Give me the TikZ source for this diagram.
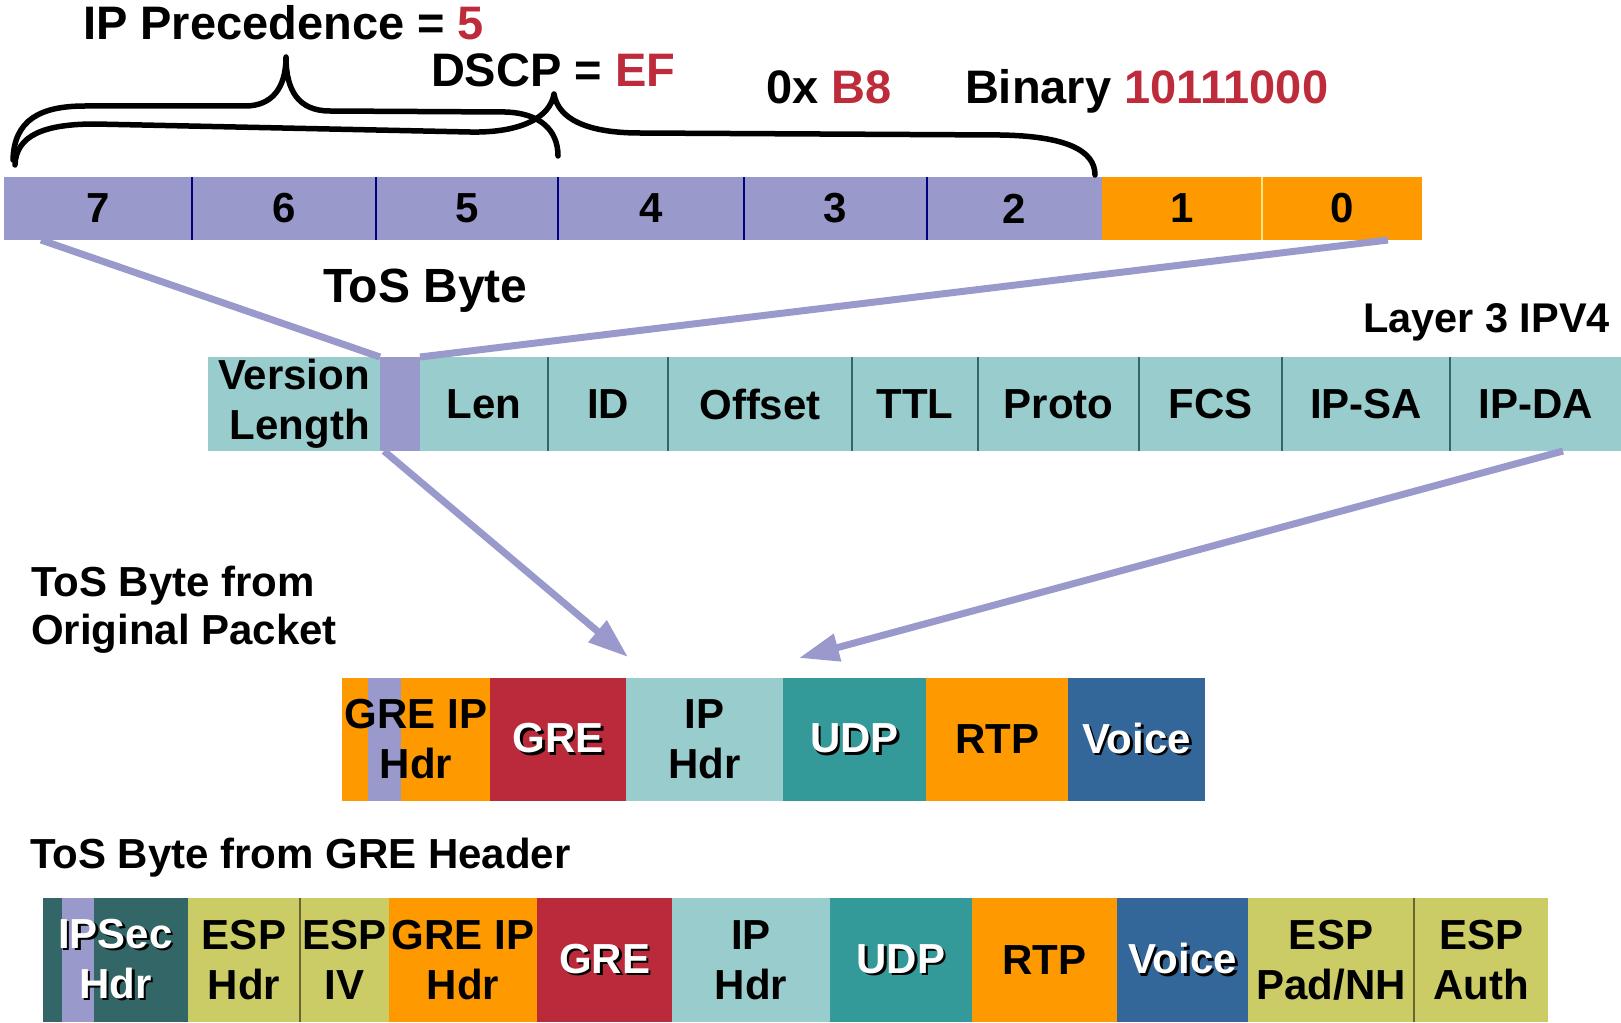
\documentclass[tikz,border=0pt]{standalone}
\usepackage{fontspec}
\setmainfont{Liberation Sans}
\usetikzlibrary{arrows.meta}
\definecolor{bitpurple}{RGB}{153,153,204}
\definecolor{bitorange}{RGB}{255,153,0}
\definecolor{hdrteal}{RGB}{153,204,204}
\definecolor{grered}{RGB}{187,42,58}
\definecolor{udpteal}{RGB}{51,153,153}
\definecolor{voiceblue}{RGB}{51,102,153}
\definecolor{ipsecgreen}{RGB}{51,102,102}
\definecolor{espolive}{RGB}{204,204,102}
\definecolor{valred}{RGB}{190,44,60}
\definecolor{navyrule}{RGB}{0,0,128}
\definecolor{paleyellow}{RGB}{255,228,140}
\definecolor{tealrule}{RGB}{51,102,102}
\definecolor{oliverule}{RGB}{102,102,51}
\newcommand\titlefont{\fontsize{47}{56}\selectfont\bfseries}
\newcommand\labelfont{\fontsize{42}{50}\selectfont\bfseries}
\newcommand\bitfont{\fontsize{42}{50}\selectfont\bfseries}
% white lettering with a dark drop shadow
\newcommand\shd[1]{\leavevmode\rlap{\kern2.5pt\raisebox{-2.5pt}{\color{black}#1}}\textcolor{white}{#1}}
\begin{document}
\begin{tikzpicture}[x=1pt,y=-1pt,
  cellbox/.style={anchor=north west, inner sep=0pt, outer sep=0pt, draw=none, font=\labelfont, align=center},
  bitcell/.style={cellbox, minimum height=63, font=\bitfont},
  vcell/.style={cellbox, minimum height=94, fill=hdrteal},
  gcell/.style={cellbox, minimum height=123},
  ecell/.style={cellbox, minimum height=124},
  stripe/.style 2 args={path picture={\fill[bitpurple] ([xshift=#1]path picture bounding box.north west) rectangle ([xshift=#2]path picture bounding box.south west);}},
  lbl/.style={inner sep=0pt, outer sep=0pt, font=\labelfont},
  ttl/.style={inner sep=0pt, outer sep=0pt, font=\titlefont, anchor=base west},
  bracepen/.style={line width=5.5pt, line cap=round, line join=round, black},
  ptr/.style={draw=bitpurple, line width=7pt},
  ptrtip/.style={ptr, -{Triangle[length=40pt,width=27pt]}},
  navydiv/.style={draw=navyrule, line width=1.6pt},
  paldiv/.style={draw=paleyellow, line width=1.6pt},
  tealdiv/.style={draw=tealrule, line width=1.6pt},
  olivediv/.style={draw=oliverule, line width=1.6pt}]
\useasboundingbox (0,0) rectangle (1621,1022);

% ---- ToS byte, bits 7..0
\node[bitcell, fill=bitpurple, minimum width=188] (b7) at (4,177) {7};
\node[bitcell, fill=bitpurple, minimum width=184] (b6) at (192,177) {6};
\node[bitcell, fill=bitpurple, minimum width=182] (b5) at (376,177) {5};
\node[bitcell, fill=bitpurple, minimum width=186] (b4) at (558,177) {4};
\node[bitcell, fill=bitpurple, minimum width=183] (b3) at (744,177) {3};
\node[bitcell, fill=bitpurple, minimum width=175] (b2) at (927,177) {2};
\node[bitcell, fill=bitorange, minimum width=160] (b1) at (1102,177) {1};
\node[bitcell, fill=bitorange, minimum width=160] (b0) at (1262,177) {0};
\foreach \b in {b7,b6,b5,b4,b3}
  \draw[navydiv] (\b.north east) -- (\b.south east);
\draw[paldiv] (b1.north east) -- (b1.south east);

% ---- braces over the bits
\draw[bracepen] (13,160) .. controls (14,120) and (40,106) .. (85,106) -- (245,106)
  .. controls (272,106) and (286,88) .. (286,57)
  .. controls (286,90) and (298,111) .. (330,111) -- (505,112)
  .. controls (540,113) and (558,130) .. (558,156);
\draw[bracepen] (15,165) .. controls (16,135) and (45,124) .. (95,124) -- (470,132)
  .. controls (520,133) and (550,118) .. (554,94)
  .. controls (558,118) and (585,133) .. (640,133) -- (1000,135)
  .. controls (1065,136) and (1095,150) .. (1095,175);

% ---- headings
\node[ttl] (ipprec) at (83,40) {IP Precedence = \textcolor{valred}{5}};
\node[ttl] (dscp) at (431,87) {DSCP = \textcolor{valred}{EF}};
\node[ttl] (hexv) at (766,104) {0x \textcolor{valred}{B8}};
\node[ttl] (binv) at (965,104) {Binary \textcolor{valred}{10111000}};
\node[ttl, font=\fontsize{48}{56}\selectfont\bfseries] (tosname) at (323,302) {ToS Byte};
\node[lbl, anchor=base east, font=\fontsize{41.5}{48}\selectfont\bfseries] (l3name) at (1610,332) {Layer 3 IPV4};

% ---- IPv4 header
\node[vcell, minimum width=172, align=right] (vver) at (208,357) {Version\\Length};
\node[vcell, fill=bitpurple, minimum width=40] (vtos) at (380,357) {};
\node[vcell, minimum width=128] (vlen) at (420,357) {Len};
\node[vcell, minimum width=120] (vid) at (548,357) {ID};
\node[vcell, minimum width=184] (voff) at (668,357) {Offset};
\node[vcell, minimum width=126] (vttl) at (852,357) {TTL};
\node[vcell, minimum width=161] (vpro) at (978,357) {Proto};
\node[vcell, minimum width=143] (vfcs) at (1139,357) {FCS};
\node[vcell, minimum width=168] (vsa) at (1282,357) {IP-SA};
\node[vcell, minimum width=171] (vda) at (1450,357) {IP-DA};
\foreach \c in {vlen,vid,voff,vttl,vpro,vfcs,vsa}
  \draw[tealdiv] (\c.north east) -- (\c.south east);

% ---- GRE encapsulated packet
\node[gcell, fill=bitorange, minimum width=148, stripe={26pt}{59pt}] (ggip) at (342,678) {GRE IP\\Hdr};
\node[gcell, fill=grered, minimum width=136] (ggre) at (490,678) {\shd{GRE}};
\node[gcell, fill=hdrteal, minimum width=157] (gip) at (626,678) {IP\\Hdr};
\node[gcell, fill=udpteal, minimum width=143] (gudp) at (783,678) {\shd{UDP}};
\node[gcell, fill=bitorange, minimum width=142] (grtp) at (926,678) {RTP};
\node[gcell, fill=voiceblue, minimum width=137] (gvoi) at (1068,678) {\shd{Voice}};

% ---- IPSec protected GRE packet
\node[ecell, fill=ipsecgreen, minimum width=145, stripe={19pt}{51pt}] (esec) at (43,898) {\shd{IPSec}\\\shd{Hdr}};
\node[ecell, fill=espolive, minimum width=112] (eesph) at (188,898) {ESP\\Hdr};
\node[ecell, fill=espolive, minimum width=89] (eespiv) at (300,898) {ESP\\IV};
\node[ecell, fill=bitorange, minimum width=148] (egip) at (389,898) {GRE IP\\Hdr};
\node[ecell, fill=grered, minimum width=135] (egre) at (537,898) {\shd{GRE}};
\node[ecell, fill=hdrteal, minimum width=158] (eip) at (672,898) {IP\\Hdr};
\node[ecell, fill=udpteal, minimum width=142] (eudp) at (830,898) {\shd{UDP}};
\node[ecell, fill=bitorange, minimum width=145] (ertp) at (972,898) {RTP};
\node[ecell, fill=voiceblue, minimum width=131] (evoi) at (1117,898) {\shd{Voice}};
\node[ecell, fill=espolive, minimum width=166] (epad) at (1248,898) {ESP\\Pad/NH};
\node[ecell, fill=espolive, minimum width=134] (eauth) at (1414,898) {ESP\\Auth};
\draw[olivediv] (eesph.north east) -- (eesph.south east);
\draw[olivediv] (epad.north east) -- (epad.south east);

% ---- side labels
\node[lbl, anchor=base west] (origA) at (31,596) {ToS Byte from};
\node[lbl, anchor=base west] (origB) at (31,644) {Original Packet};
\node[lbl, anchor=base west] (greA) at (30,868) {ToS Byte from GRE Header};

% ---- connectors
\coordinate (tipC) at ([shift={(2,-21)}]gip.north west);
\coordinate (tipD) at ([shift={(16,-20)}]gudp.north west);
\draw[ptr] ([xshift=37pt]b7.south west) -- (vtos.north west);
\draw[ptr] ([xshift=-34pt]b0.south east) -- (vtos.north east);
\draw[ptrtip] ([xshift=4pt]vtos.south west) -- (tipC);
\draw[ptrtip] ([xshift=113pt]vda.south west) -- (tipD);
\end{tikzpicture}
\end{document}
